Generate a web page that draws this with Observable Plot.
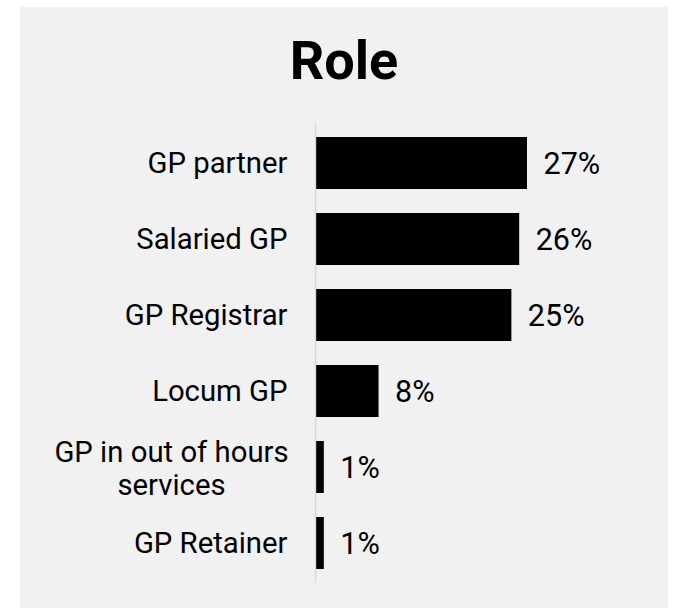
<!DOCTYPE html>
<html>
<head>
<meta charset="utf-8">
<script src="https://cdn.jsdelivr.net/npm/d3@7"></script>
<script src="https://cdn.jsdelivr.net/npm/@observablehq/plot@0.6"></script>
<style>
  html, body { margin: 0; padding: 0; background: #ffffff; }
  #panel { position: absolute; left: 20px; top: 7px; width: 648px; height: 601px; background: #f1f1f1; }
  #title { position: absolute; left: 0; top: 22px; width: 100%; text-align: center;
           font-family: Roboto, sans-serif; font-weight: 700; font-size: 54px; line-height: 64px; color: #000; margin: 0; }
  #chart { position: absolute; left: 0; top: 106px; }
</style>
</head>
<body>
<div id="panel">
  <h1 id="title">Role</h1>
  <div id="chart"></div>
</div>
<script>
const roles = ["GP partner", "Salaried GP", "GP Registrar", "Locum GP", "GP in out of hours\nservices", "GP Retainer"];
const shares = [27, 26, 25, 8, 1, 1];
const valueLabels = ["27%", "26%", "25%", "8%", "1%", "1%"];

const data = roles.map((role, i) => ({role, share: shares[i], label: valueLabels[i]}));
const singleLine = roles.filter(r => !r.includes("\n"));
const multiLine = roles.filter(r => r.includes("\n"));

const plot = Plot.plot({
  width: 648,
  height: 480,
  marginLeft: 296,
  marginRight: 141,
  marginTop: 10,
  marginBottom: 10,
  style: {background: "transparent", fontFamily: "Roboto, sans-serif", color: "#000"},
  x: {domain: [0, 27], axis: null},
  y: {domain: roles, paddingInner: 0.32, paddingOuter: 0.16, label: null},
  marks: [
    Plot.barX(data, {x: "share", y: "role", fill: "#000"}),
    Plot.ruleX([0], {stroke: "#d9d9d9", strokeWidth: 1.4, dx: -1}),
    Plot.axisY(singleLine, {tickSize: 0, tickPadding: 29, fontSize: 29.3, label: null, textAnchor: "end", fill: "#000"}),
    Plot.axisY(multiLine, {tickSize: 0, tickPadding: 29, fontSize: 29.3, label: null, textAnchor: "middle", dx: -116, lineHeight: 1.13, fill: "#000"}),
    Plot.text(data, {x: "share", y: "role", text: "label", textAnchor: "start", dx: 16, dy: 1, fontSize: 30.5, fill: "#000"})
  ]
});
document.getElementById("chart").appendChild(plot);
</script>
</body>
</html>
